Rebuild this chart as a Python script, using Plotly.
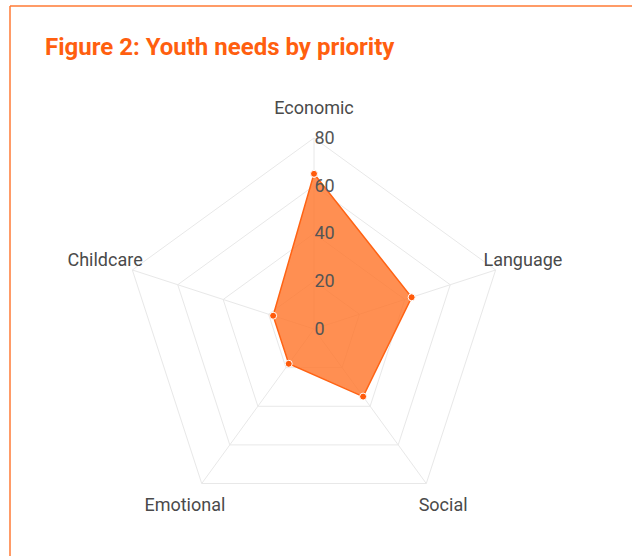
import plotly.graph_objects as go

categories = ["Economic", "Language", "Social", "Emotional", "Childcare"]
values = [65, 43, 35, 18, 18]
tick_values = [0, 20, 40, 60, 80]
title_text = "Figure 2: Youth needs by priority"

W, H = 632, 556
cx, cy, R = 314, 329, 191
R_MAX = 80
# a second, larger polar frame sharing the same centre carries the category labels
R2 = H - cy                      # largest radius that fits below the centre
R2_MAX = R_MAX * R2 / R          # same value-to-pixel scale as the main chart
LABEL_R = 92                     # label distance, in chart units

fig = go.Figure()
fig.add_trace(go.Scatterpolar(
    r=values + values[:1],
    theta=categories + categories[:1],
    mode="lines+markers",
    fill="toself",
    fillcolor="rgba(255,118,44,0.82)",
    line=dict(color="#FF6314", width=1.5),
    marker=dict(color="#FF5A0A", size=7, line=dict(color="white", width=1)),
    hoverinfo="skip",
    showlegend=False,
    subplot="polar",
))
fig.add_trace(go.Scatterpolar(
    r=[LABEL_R] * len(categories),
    theta=categories,
    mode="text",
    text=categories,
    textposition="middle center",
    textfont=dict(family="Roboto", size=18, color="#4a4a4a"),
    cliponaxis=False,
    hoverinfo="skip",
    showlegend=False,
    subplot="polar2",
))


def dom(radius):
    return dict(x=[(cx - radius) / W, (cx + radius) / W],
                y=[max(0, (H - cy - radius) / H), (H - cy + radius) / H])


fig.update_layout(
    width=W, height=H,
    margin=dict(l=0, r=0, t=0, b=0),
    paper_bgcolor="white",
    plot_bgcolor="white",
    font=dict(family="Roboto", color="#555555"),
    polar=dict(
        domain=dom(R),
        bgcolor="rgba(0,0,0,0)",
        gridshape="linear",
        radialaxis=dict(
            range=[0, R_MAX],
            tickvals=tick_values,
            ticktext=[str(v) for v in tick_values],
            angle=90,
            tickangle=90,
            showline=False,
            ticks="",
            gridcolor="#e8e8e8",
            gridwidth=1,
            tickfont=dict(family="Roboto", size=18, color="#555555"),
            layer="above traces",
        ),
        angularaxis=dict(
            direction="clockwise",
            rotation=90,
            showline=True,
            linecolor="#e8e8e8",
            linewidth=1,
            gridcolor="#e8e8e8",
            ticks="",
            showticklabels=False,
            layer="above traces",
        ),
    ),
    polar2=dict(
        domain=dom(R2),
        bgcolor="rgba(0,0,0,0)",
        gridshape="linear",
        radialaxis=dict(range=[0, R2_MAX], visible=False, showgrid=False),
        angularaxis=dict(direction="clockwise", rotation=90, categoryarray=categories,
                         showline=False, showgrid=False, showticklabels=False, ticks=""),
    ),
    annotations=[dict(
        text="<b>" + title_text + "</b>",
        x=43 / W, y=1 - 47 / H, xref="paper", yref="paper",
        xanchor="left", yanchor="middle", showarrow=False,
        font=dict(family="Roboto", size=24, color="#FF5F0F"),
    )],
    shapes=[
        dict(type="line", xref="paper", yref="paper", x0=10 / W, x1=1, y0=1 - 6 / H, y1=1 - 6 / H,
             line=dict(color="#FF7A35", width=1.5)),
        dict(type="line", xref="paper", yref="paper", x0=10 / W, x1=10 / W, y0=0, y1=1 - 6 / H,
             line=dict(color="#FF7A35", width=1.5)),
    ],
)

fig.write_html("out.html", config={"displayModeBar": False},
               post_script="document.body.style.margin='0';document.body.style.overflow='hidden';")
